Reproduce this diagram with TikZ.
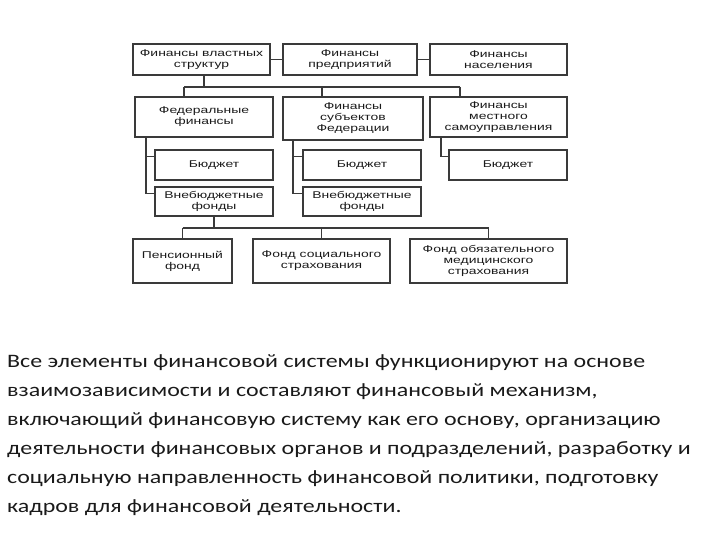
\documentclass[tikz,border=0pt]{standalone}
\usepackage{fontspec}
\setmainfont[FakeStretch=1.26]{Carlito}
\newfontfamily\boxfont[FakeStretch=1.42]{Liberation Sans}
\usetikzlibrary{calc}
\definecolor{ink}{HTML}{1A1A1A}
\definecolor{edge}{HTML}{3A3A3A}
\tikzset{
  fbox/.style={draw=edge,line width=1.1pt,align=center,inner sep=1pt,
    font=\boxfont\fontsize{9.8}{11}\selectfont,text=ink},
  link/.style={edge,line width=1.1pt},
}

\begin{document}
\begin{tikzpicture}[x=1pt,y=-1pt]
\useasboundingbox (0,0) rectangle (720,540);

% ---------------------------------------------------------------- top level
\node[fbox,minimum width=137pt,minimum height=31pt] (a1) at (201.5,59.5) {Финансы властных\\структур};
\node[fbox,minimum width=134pt,minimum height=31pt] (a2) at (350,59.5) {Финансы\\предприятий};
\node[fbox,minimum width=137pt,minimum height=31pt] (a3) at (498.5,59.5) {Финансы\\населения};
\draw[link] (a1) -- (a2);
\draw[link] (a2) -- (a3);

% ---------------------------------------------------------------- levels of power
\node[fbox,minimum width=138pt,minimum height=40pt] (b1) at (204,117) {Федеральные\\финансы};
\node[fbox,minimum width=140pt,minimum height=43pt] (b2) at (353,118.5) {Финансы\\субъектов\\Федерации};
\node[fbox,minimum width=137pt,minimum height=40pt] (b3) at (498.5,117) {Финансы\\местного\\самоуправления};
\coordinate (j0) at (204,87);
\coordinate (j1) at (184,87);
\coordinate (j2) at (322,87);
\coordinate (j3) at (460,87);
\draw[link] (a1.south -| j0) -- (j0);
\draw[link] (j1) -- (j3);
\foreach \j/\b in {j1/b1,j2/b2,j3/b3}
  {\draw[link] (\j) -- (\j |- \b.north);}

% ---------------------------------------------------------------- budgets and funds
\node[fbox,minimum width=118pt,minimum height=30pt] (c1) at (214,165) {Бюджет};
\node[fbox,minimum width=118pt,minimum height=30pt] (c2) at (362,165) {Бюджет};
\node[fbox,minimum width=118pt,minimum height=30pt] (c3) at (508,165) {Бюджет};
\node[fbox,minimum width=118pt,minimum height=29pt] (d1) at (214,201.5) {Внебюджетные\\фонды};
\node[fbox,minimum width=118pt,minimum height=29pt] (d2) at (362,201.5) {Внебюджетные\\фонды};
\coordinate (t1) at (146,0);
\coordinate (t2) at (293,0);
\coordinate (t3) at (441,0);
\draw[link] (b1.south -| t1) |- ($(d1.north west)!.22!(d1.south west)$);
\draw[link] (b1.south -| t1) |- ($(c1.north west)!.23!(c1.south west)$);
\draw[link] (b2.south -| t2) |- ($(d2.north west)!.22!(d2.south west)$);
\draw[link] (b2.south -| t2) |- ($(c2.north west)!.23!(c2.south west)$);
\draw[link] (b3.south -| t3) |- ($(c3.north west)!.23!(c3.south west)$);

% ---------------------------------------------------------------- extra-budget funds
\node[fbox,minimum width=99pt,minimum height=44pt] (e1) at (182.5,261) {Пенсионный\\фонд};
\node[fbox,minimum width=137pt,minimum height=44pt] (e2) at (321.5,261) {Фонд социального\\страхования};
\node[fbox,minimum width=157pt,minimum height=44pt] (e3) at (488.5,261) {Фонд обязательного\\медицинского\\страхования};
\coordinate (m) at (214,228);
\draw[link] (d1.south) -- (m);
\draw[link] (e1.north |- m) -- (e3.north |- m);
\foreach \e in {e1,e2,e3}
  {\draw[link] (\e.north |- m) -- (\e.north);}

% ---------------------------------------------------------------- text
\node[anchor=north west,align=left,inner sep=0pt,text=ink,
      font=\fontsize{19}{29}\selectfont] (txt) at (7,354)
  {Все элементы финансовой системы функционируют на основе\\
   взаимозависимости и составляют финансовый механизм,\\
   включающий финансовую систему как его основу, организацию\\
   деятельности финансовых органов и подразделений, разработку и\\
   социальную направленность финансовой политики, подготовку\\
   кадров для финансовой деятельности.};

\end{tikzpicture}
\end{document}
